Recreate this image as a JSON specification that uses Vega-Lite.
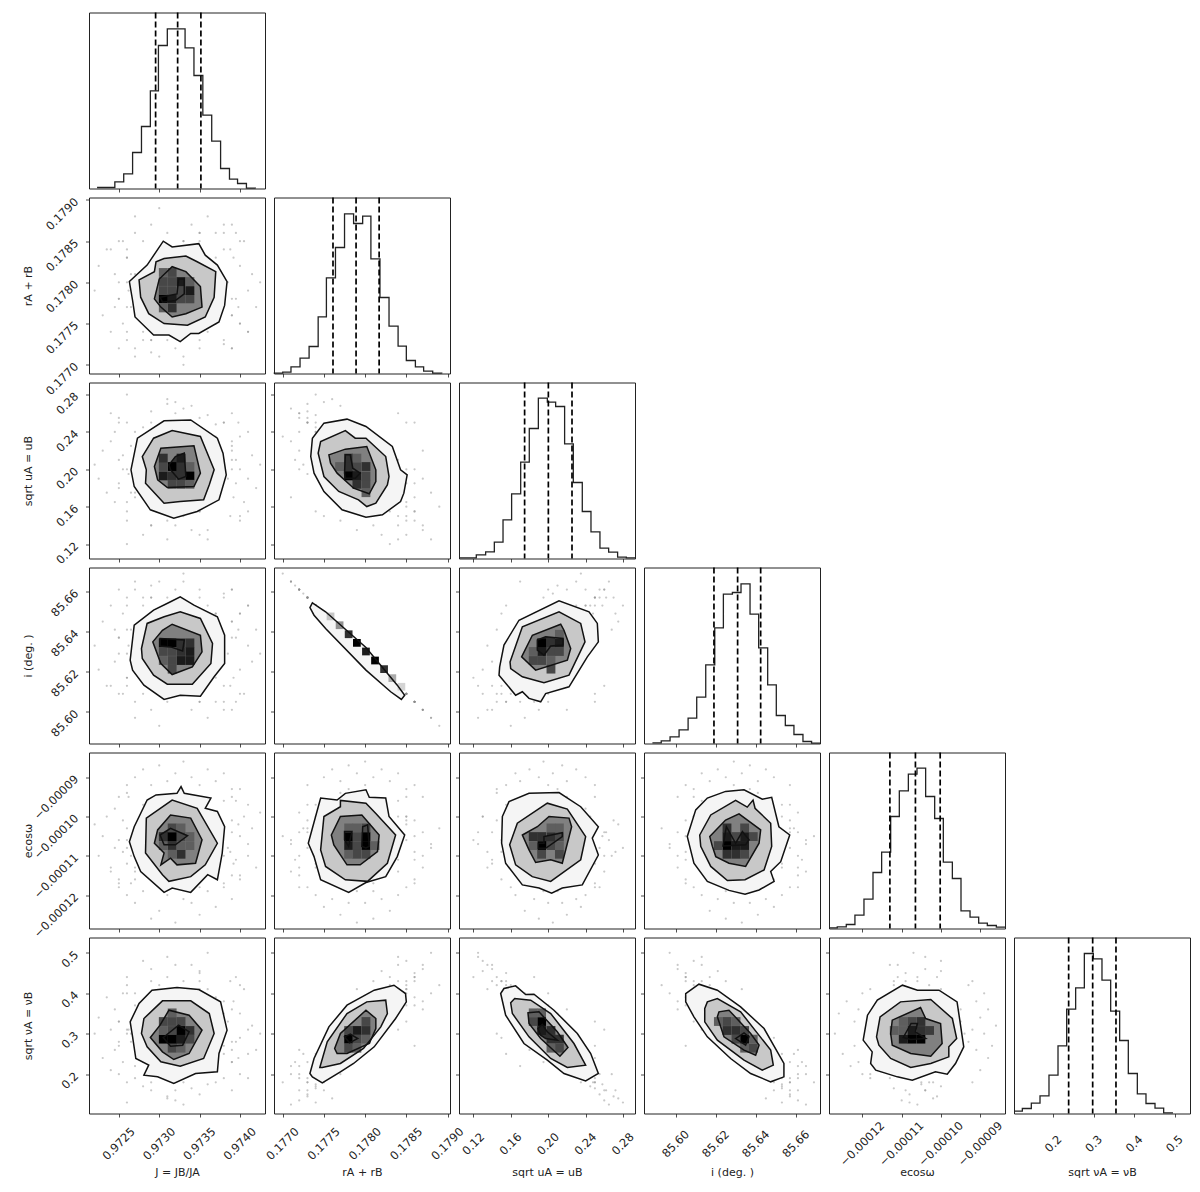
{"$schema":"https://vega.github.io/schema/vega-lite/v6.json","padding":{"left":21,"top":10.5,"right":5,"bottom":5},"background":"white","bounds":"flush","columns":6,"spacing":9,
"config":{"view":{"continuousWidth":176,"continuousHeight":176,"stroke":"#222","strokeWidth":1},"font":"DejaVu Sans","axis":{"domain":false,"grid":false,"tickColor":"#222","tickSize":3.5,"tickWidth":0.8,"labelFont":"DejaVu Sans","labelFontSize":11.5,"labelColor":"#222","labelOverlap":false,"labelBound":false,"labelFlush":false,"labelAngle":-45,"titleFont":"DejaVu Sans","titleFontSize":11,"titleFontWeight":"normal","titleColor":"#222","titleBaseline":"middle"},"axisX":{"labelAlign":"center","labelBaseline":"middle","labelPadding":27,"titleY":59},"axisY":{"labelAlign":"right","labelBaseline":"middle","labelPadding":9,"titleX":-61}},
"datasets":{
"s":[
{"J":0.9722,"r":0.1779,"u":0.205,"i":85.633,"e":-1.02e-4,"v":0.3},{"J":0.97225,"r":0.1782,"u":0.19,"i":85.621,"e":-1.1e-4,"v":0.34},{"J":0.9723,"r":0.1776,"u":0.22,"i":85.645,"e":-1.05e-4,"v":0.24},{"J":0.97235,"r":0.1784,"u":0.175,"i":85.613,"e":-1.0e-4,"v":0.39},{"J":0.9724,"r":0.1774,"u":0.23,"i":85.653,"e":-1.13e-4,"v":0.21},{"J":0.97245,"r":0.1781,"u":0.165,"i":85.625,"e":-1.08e-4,"v":0.36},{"J":0.97245,"r":0.1777,"u":0.24,"i":85.641,"e":-9.8e-5,"v":0.26},{"J":0.9725,"r":0.178,"u":0.21,"i":85.629,"e":-1.16e-4,"v":0.33},{"J":0.9725,"r":0.1778,"u":0.185,"i":85.637,"e":-1.06e-4,"v":0.27},{"J":0.97255,"r":0.1785,"u":0.2,"i":85.609,"e":-1.01e-4,"v":0.4},{"J":0.97255,"r":0.1775,"u":0.215,"i":85.649,"e":-1.09e-4,"v":0.23},{"J":0.9726,"r":0.1783,"u":0.155,"i":85.617,"e":-1.12e-4,"v":0.42},{"J":0.9726,"r":0.1773,"u":0.25,"i":85.657,"e":-1.03e-4,"v":0.18},{"J":0.97262,"r":0.1779,"u":0.195,"i":85.633,"e":-9.5e-5,"v":0.31},{"J":0.97265,"r":0.1781,"u":0.225,"i":85.625,"e":-1.17e-4,"v":0.3},{"J":0.97265,"r":0.1777,"u":0.175,"i":85.641,"e":-1.1e-4,"v":0.28},
{"J":0.97385,"r":0.178,"u":0.19,"i":85.629,"e":-1.08e-4,"v":0.33},{"J":0.9739,"r":0.1776,"u":0.225,"i":85.645,"e":-1.01e-4,"v":0.23},{"J":0.97392,"r":0.1783,"u":0.17,"i":85.617,"e":-1.12e-4,"v":0.38},{"J":0.97395,"r":0.1778,"u":0.21,"i":85.637,"e":-9.6e-5,"v":0.28},{"J":0.974,"r":0.1782,"u":0.2,"i":85.621,"e":-1.15e-4,"v":0.35},{"J":0.974,"r":0.1775,"u":0.235,"i":85.649,"e":-1.05e-4,"v":0.2},{"J":0.97405,"r":0.1785,"u":0.165,"i":85.609,"e":-1.0e-4,"v":0.41},{"J":0.9741,"r":0.1779,"u":0.19,"i":85.633,"e":-1.1e-4,"v":0.31},{"J":0.9741,"r":0.1774,"u":0.24,"i":85.653,"e":-1.07e-4,"v":0.19},{"J":0.97415,"r":0.1781,"u":0.215,"i":85.625,"e":-1.03e-4,"v":0.32},{"J":0.9742,"r":0.1777,"u":0.18,"i":85.641,"e":-1.13e-4,"v":0.26},{"J":0.97425,"r":0.178,"u":0.205,"i":85.629,"e":-9.9e-5,"v":0.3},{"J":0.97388,"r":0.1784,"u":0.15,"i":85.613,"e":-1.09e-4,"v":0.43},{"J":0.9739,"r":0.1772,"u":0.26,"i":85.661,"e":-1.04e-4,"v":0.16},{"J":0.97395,"r":0.1786,"u":0.185,"i":85.605,"e":-1.11e-4,"v":0.44},{"J":0.97398,"r":0.1777,"u":0.25,"i":85.641,"e":-1.02e-4,"v":0.24},
{"J":0.9733,"r":0.1771,"u":0.265,"i":85.665,"e":-1.06e-4,"v":0.125},{"J":0.9732,"r":0.1772,"u":0.26,"i":85.661,"e":-1.1e-4,"v":0.135},{"J":0.9731,"r":0.1773,"u":0.27,"i":85.657,"e":-1.01e-4,"v":0.145},{"J":0.9735,"r":0.1773,"u":0.255,"i":85.657,"e":-1.08e-4,"v":0.15},{"J":0.9729,"r":0.1773,"u":0.262,"i":85.657,"e":-1.04e-4,"v":0.16},{"J":0.9734,"r":0.1774,"u":0.25,"i":85.653,"e":-1.12e-4,"v":0.165},{"J":0.9728,"r":0.1774,"u":0.245,"i":85.653,"e":-1.0e-4,"v":0.17},{"J":0.9736,"r":0.1774,"u":0.258,"i":85.653,"e":-1.05e-4,"v":0.175},{"J":0.9732,"r":0.1775,"u":0.272,"i":85.649,"e":-1.09e-4,"v":0.16},{"J":0.9737,"r":0.1775,"u":0.248,"i":85.649,"e":-1.02e-4,"v":0.18},{"J":0.9727,"r":0.1772,"u":0.24,"i":85.661,"e":-1.13e-4,"v":0.19},{"J":0.973,"r":0.1771,"u":0.23,"i":85.665,"e":-1.07e-4,"v":0.2},{"J":0.9735,"r":0.1772,"u":0.22,"i":85.661,"e":-9.9e-5,"v":0.22},{"J":0.9733,"r":0.177,"u":0.235,"i":85.669,"e":-1.05e-4,"v":0.18},{"J":0.9729,"r":0.17715,"u":0.21,"i":85.663,"e":-1.11e-4,"v":0.23},{"J":0.9738,"r":0.17725,"u":0.205,"i":85.659,"e":-1.03e-4,"v":0.25},{"J":0.9726,"r":0.1774,"u":0.28,"i":85.653,"e":-1.08e-4,"v":0.13},{"J":0.9731,"r":0.1776,"u":0.275,"i":85.645,"e":-1.02e-4,"v":0.14},{"J":0.9734,"r":0.1777,"u":0.268,"i":85.641,"e":-1.1e-4,"v":0.2},
{"J":0.9733,"r":0.1785,"u":0.15,"i":85.609,"e":-1.06e-4,"v":0.43},{"J":0.9731,"r":0.1786,"u":0.145,"i":85.605,"e":-1.01e-4,"v":0.44},{"J":0.9735,"r":0.1786,"u":0.155,"i":85.605,"e":-1.09e-4,"v":0.45},{"J":0.9729,"r":0.1787,"u":0.14,"i":85.601,"e":-1.04e-4,"v":0.46},{"J":0.9734,"r":0.1787,"u":0.135,"i":85.601,"e":-1.13e-4,"v":0.47},{"J":0.9728,"r":0.1785,"u":0.13,"i":85.609,"e":-1.0e-4,"v":0.48},{"J":0.9736,"r":0.1788,"u":0.125,"i":85.597,"e":-1.07e-4,"v":0.5},{"J":0.9732,"r":0.1784,"u":0.14,"i":85.613,"e":-1.11e-4,"v":0.47},{"J":0.973,"r":0.1789,"u":0.16,"i":85.593,"e":-1.03e-4,"v":0.42},{"J":0.9737,"r":0.1786,"u":0.17,"i":85.605,"e":-1.05e-4,"v":0.39},{"J":0.9727,"r":0.1788,"u":0.175,"i":85.597,"e":-1.08e-4,"v":0.4},{"J":0.9733,"r":0.1785,"u":0.185,"i":85.609,"e":-1.02e-4,"v":0.37},{"J":0.9738,"r":0.1787,"u":0.19,"i":85.601,"e":-1.1e-4,"v":0.38},{"J":0.9726,"r":0.1783,"u":0.12,"i":85.617,"e":-1.06e-4,"v":0.44},{"J":0.9735,"r":0.1782,"u":0.13,"i":85.621,"e":-1.0e-4,"v":0.455},{"J":0.9729,"r":0.1781,"u":0.14,"i":85.625,"e":-1.12e-4,"v":0.43},{"J":0.9731,"r":0.1784,"u":0.125,"i":85.613,"e":-1.04e-4,"v":0.49},{"J":0.9736,"r":0.1779,"u":0.135,"i":85.633,"e":-1.09e-4,"v":0.41},
{"J":0.9732,"r":0.1779,"u":0.205,"i":85.633,"e":-1.27e-4,"v":0.3},{"J":0.9729,"r":0.1781,"u":0.19,"i":85.625,"e":-1.26e-4,"v":0.35},{"J":0.9735,"r":0.1777,"u":0.22,"i":85.641,"e":-1.25e-4,"v":0.25},{"J":0.973,"r":0.1783,"u":0.175,"i":85.617,"e":-1.24e-4,"v":0.38},{"J":0.9737,"r":0.1775,"u":0.235,"i":85.649,"e":-1.23e-4,"v":0.22},{"J":0.9734,"r":0.178,"u":0.2,"i":85.629,"e":-1.22e-4,"v":0.33},{"J":0.9727,"r":0.1778,"u":0.215,"i":85.637,"e":-1.22e-4,"v":0.27},{"J":0.9733,"r":0.1782,"u":0.185,"i":85.621,"e":-1.21e-4,"v":0.36},{"J":0.9739,"r":0.1776,"u":0.23,"i":85.645,"e":-1.21e-4,"v":0.23},{"J":0.9726,"r":0.1784,"u":0.165,"i":85.613,"e":-1.2e-4,"v":0.4},{"J":0.9731,"r":0.1774,"u":0.24,"i":85.653,"e":-1.2e-4,"v":0.2},{"J":0.9736,"r":0.1779,"u":0.195,"i":85.633,"e":-1.19e-4,"v":0.31},{"J":0.9728,"r":0.1781,"u":0.21,"i":85.625,"e":-1.19e-4,"v":0.29},{"J":0.9735,"r":0.1785,"u":0.16,"i":85.609,"e":-1.18e-4,"v":0.41},{"J":0.9738,"r":0.1773,"u":0.25,"i":85.657,"e":-1.18e-4,"v":0.19},{"J":0.9725,"r":0.1778,"u":0.18,"i":85.637,"e":-1.17e-4,"v":0.28},
{"J":0.9733,"r":0.178,"u":0.195,"i":85.629,"e":-8.6e-5,"v":0.32},{"J":0.973,"r":0.1778,"u":0.215,"i":85.637,"e":-8.7e-5,"v":0.27},{"J":0.9736,"r":0.1782,"u":0.18,"i":85.621,"e":-8.8e-5,"v":0.36},{"J":0.9728,"r":0.1776,"u":0.23,"i":85.645,"e":-8.8e-5,"v":0.24},{"J":0.9732,"r":0.1784,"u":0.165,"i":85.613,"e":-8.9e-5,"v":0.4},{"J":0.9738,"r":0.1779,"u":0.205,"i":85.633,"e":-8.9e-5,"v":0.3},{"J":0.9727,"r":0.1781,"u":0.19,"i":85.625,"e":-9.0e-5,"v":0.34},{"J":0.9734,"r":0.1775,"u":0.24,"i":85.649,"e":-9.0e-5,"v":0.21},{"J":0.9731,"r":0.1777,"u":0.22,"i":85.641,"e":-9.1e-5,"v":0.26},{"J":0.9737,"r":0.1783,"u":0.17,"i":85.617,"e":-9.1e-5,"v":0.38},{"J":0.9726,"r":0.178,"u":0.2,"i":85.629,"e":-9.2e-5,"v":0.31},{"J":0.9735,"r":0.1786,"u":0.155,"i":85.605,"e":-9.2e-5,"v":0.43},{"J":0.9729,"r":0.1773,"u":0.25,"i":85.657,"e":-9.2e-5,"v":0.18},{"J":0.9739,"r":0.1778,"u":0.21,"i":85.637,"e":-9.3e-5,"v":0.28},
{"J":0.9727,"r":0.1786,"u":0.2,"i":85.605,"e":-1.16e-4,"v":0.37},{"J":0.9738,"r":0.1784,"u":0.21,"i":85.613,"e":-9.6e-5,"v":0.35},{"J":0.9728,"r":0.1773,"u":0.195,"i":85.657,"e":-9.7e-5,"v":0.23},{"J":0.9739,"r":0.1772,"u":0.2,"i":85.661,"e":-1.15e-4,"v":0.26},{"J":0.9725,"r":0.1785,"u":0.25,"i":85.609,"e":-9.5e-5,"v":0.33},{"J":0.974,"r":0.1775,"u":0.15,"i":85.649,"e":-1.16e-4,"v":0.29},{"J":0.9726,"r":0.1777,"u":0.145,"i":85.641,"e":-9.4e-5,"v":0.3},{"J":0.9738,"r":0.1786,"u":0.25,"i":85.605,"e":-1.17e-4,"v":0.27},{"J":0.9727,"r":0.1771,"u":0.17,"i":85.665,"e":-1.14e-4,"v":0.22},{"J":0.9739,"r":0.1787,"u":0.22,"i":85.601,"e":-9.5e-5,"v":0.36},{"J":0.9724,"r":0.1784,"u":0.26,"i":85.613,"e":-1.14e-4,"v":0.31},{"J":0.9741,"r":0.1774,"u":0.155,"i":85.653,"e":-9.7e-5,"v":0.25},{"J":0.9725,"r":0.1772,"u":0.255,"i":85.661,"e":-1.18e-4,"v":0.2},{"J":0.974,"r":0.1785,"u":0.145,"i":85.609,"e":-9.3e-5,"v":0.42}],
"hJ":[{"J":0.97223,"n":3},{"J":0.97245,"n":20},{"J":0.97256,"n":44},{"J":0.97267,"n":108},{"J":0.97278,"n":186},{"J":0.97289,"n":293},{"J":0.97299,"n":429},{"J":0.9731,"n":479},{"J":0.97332,"n":422},{"J":0.97343,"n":339},{"J":0.97354,"n":220},{"J":0.97365,"n":142},{"J":0.97376,"n":60},{"J":0.97387,"n":28},{"J":0.97397,"n":15},{"J":0.97408,"n":1},{"J":0.97419,"n":0}],
"lJ":[{"J":0.972955},{"J":0.973228},{"J":0.973516}],
"hr":[{"r":0.17689,"n":1},{"r":0.177,"n":4},{"r":0.1771,"n":20},{"r":0.17721,"n":46},{"r":0.17732,"n":81},{"r":0.17743,"n":170},{"r":0.17753,"n":287},{"r":0.17764,"n":378},{"r":0.17775,"n":479},{"r":0.17786,"n":450},{"r":0.17797,"n":472},{"r":0.17807,"n":344},{"r":0.17818,"n":228},{"r":0.17829,"n":142},{"r":0.1784,"n":82},{"r":0.1785,"n":39},{"r":0.17861,"n":20},{"r":0.17871,"n":7},{"r":0.17882,"n":1},{"r":0.17893,"n":0}],
"lr":[{"r":0.17761},{"r":0.17789},{"r":0.17817}],
"hu":[{"u":0.1046,"n":2},{"u":0.1231,"n":11},{"u":0.1331,"n":20},{"u":0.1424,"n":49},{"u":0.1517,"n":116},{"u":0.1609,"n":194},{"u":0.1706,"n":289},{"u":0.1798,"n":390},{"u":0.1895,"n":481},{"u":0.1991,"n":469},{"u":0.208,"n":456},{"u":0.2176,"n":344},{"u":0.2269,"n":228},{"u":0.2365,"n":141},{"u":0.2458,"n":80},{"u":0.2554,"n":31},{"u":0.2647,"n":19},{"u":0.2743,"n":4},{"u":0.2836,"n":2},{"u":0.2929,"n":2}],
"lu":[{"u":0.1748},{"u":0.2002},{"u":0.2255}],
"hi":[{"i":85.5884,"n":2},{"i":85.5928,"n":8},{"i":85.5972,"n":20},{"i":85.6017,"n":41},{"i":85.6062,"n":76},{"i":85.6105,"n":139},{"i":85.615,"n":236},{"i":85.6195,"n":347},{"i":85.6238,"n":448},{"i":85.6283,"n":453},{"i":85.6326,"n":479},{"i":85.6371,"n":388},{"i":85.6414,"n":287},{"i":85.6459,"n":176},{"i":85.6502,"n":84},{"i":85.6547,"n":54},{"i":85.659,"n":27},{"i":85.6635,"n":6},{"i":85.6678,"n":1},{"i":85.672,"n":1}],
"li":[{"i":85.6191},{"i":85.6309},{"i":85.6424}],
"he":[{"e":-1.285e-4,"n":2},{"e":-1.264e-4,"n":5},{"e":-1.241e-4,"n":12},{"e":-1.219e-4,"n":40},{"e":-1.196e-4,"n":88},{"e":-1.173e-4,"n":168},{"e":-1.151e-4,"n":229},{"e":-1.128e-4,"n":336},{"e":-1.106e-4,"n":413},{"e":-1.083e-4,"n":463},{"e":-1.061e-4,"n":481},{"e":-1.039e-4,"n":396},{"e":-1.016e-4,"n":330},{"e":-9.94e-5,"n":199},{"e":-9.71e-5,"n":150},{"e":-9.49e-5,"n":53},{"e":-9.26e-5,"n":34},{"e":-9.04e-5,"n":16},{"e":-8.82e-5,"n":9},{"e":-8.59e-5,"n":4},{"e":-8.37e-5,"n":4}],
"le":[{"e":-1.13e-4},{"e":-1.065e-4},{"e":-1.002e-4}],
"hv":[{"v":0.1028,"n":7},{"v":0.1234,"n":15},{"v":0.1456,"n":31},{"v":0.1671,"n":53},{"v":0.1893,"n":115},{"v":0.2116,"n":203},{"v":0.233,"n":313},{"v":0.2552,"n":377},{"v":0.2767,"n":480},{"v":0.2989,"n":464},{"v":0.3203,"n":400},{"v":0.3418,"n":307},{"v":0.364,"n":219},{"v":0.3854,"n":120},{"v":0.4077,"n":59},{"v":0.4291,"n":30},{"v":0.4514,"n":16},{"v":0.4728,"n":2},{"v":0.4942,"n":0}],
"lv":[{"v":0.2379},{"v":0.2973},{"v":0.3549}],
"cJr":[{"J":0.97263,"r":0.17801,"k":1},{"J":0.97285,"r":0.17821,"k":1},{"J":0.97305,"r":0.1785,"k":1},{"J":0.97316,"r":0.17843,"k":1},{"J":0.97349,"r":0.17847,"k":1},{"J":0.97357,"r":0.17833,"k":1},{"J":0.97372,"r":0.17821,"k":1},{"J":0.97384,"r":0.17801,"k":1},{"J":0.97381,"r":0.17772,"k":1},{"J":0.97374,"r":0.17752,"k":1},{"J":0.97349,"r":0.17738,"k":1},{"J":0.97339,"r":0.17738,"k":1},{"J":0.97326,"r":0.17728,"k":1},{"J":0.97312,"r":0.17736,"k":1},{"J":0.97293,"r":0.17736,"k":1},{"J":0.9727,"r":0.17758,"k":1},{"J":0.97267,"r":0.17778,"k":1},
{"J":0.97275,"r":0.17803,"k":2},{"J":0.97294,"r":0.17813,"k":2},{"J":0.97296,"r":0.17825,"k":2},{"J":0.97306,"r":0.17829,"k":2},{"J":0.97333,"r":0.17832,"k":2},{"J":0.97347,"r":0.17825,"k":2},{"J":0.9737,"r":0.17813,"k":2},{"J":0.97368,"r":0.17782,"k":2},{"J":0.97357,"r":0.17758,"k":2},{"J":0.97335,"r":0.17748,"k":2},{"J":0.97306,"r":0.1775,"k":2},{"J":0.97287,"r":0.17762,"k":2},{"J":0.97277,"r":0.17782,"k":2},
{"J":0.97294,"r":0.1778,"k":3},{"J":0.973,"r":0.17804,"k":3},{"J":0.97316,"r":0.17819,"k":3},{"J":0.97333,"r":0.17813,"k":3},{"J":0.97351,"r":0.17795,"k":3},{"J":0.97353,"r":0.1777,"k":3},{"J":0.97333,"r":0.17762,"k":3},{"J":0.97316,"r":0.17758,"k":3},{"J":0.97302,"r":0.1777,"k":3},
{"J":0.97301,"r":0.17782,"k":4},{"J":0.97322,"r":0.17786,"k":4},{"J":0.97324,"r":0.17804,"k":4},{"J":0.97331,"r":0.17804,"k":4},{"J":0.97331,"r":0.17786,"k":4},{"J":0.9732,"r":0.17778,"k":4},{"J":0.97304,"r":0.17776,"k":4}],
"gJr":[{"J":0.97305,"r":0.1778,"g":10},{"J":0.97316,"r":0.1778,"g":9},{"J":0.97327,"r":0.1778,"g":7},{"J":0.97338,"r":0.1778,"g":7},{"J":0.97305,"r":0.1779,"g":7},{"J":0.97316,"r":0.1779,"g":7},{"J":0.97327,"r":0.1779,"g":7},{"J":0.97338,"r":0.1779,"g":9},{"J":0.97305,"r":0.17801,"g":7},{"J":0.97316,"r":0.17801,"g":7},{"J":0.97327,"r":0.17801,"g":9},{"J":0.97338,"r":0.17801,"g":6},{"J":0.97305,"r":0.17812,"g":6},{"J":0.97316,"r":0.17812,"g":7},{"J":0.97316,"r":0.17769,"g":8},{"J":0.97305,"r":0.17769,"g":6}],
"cJu":[{"J":0.97265,"u":0.1995,"k":1},{"J":0.97273,"u":0.2333,"k":1},{"J":0.97306,"u":0.2519,"k":1},{"J":0.97339,"u":0.2529,"k":1},{"J":0.97372,"u":0.2333,"k":1},{"J":0.97379,"u":0.2173,"k":1},{"J":0.97383,"u":0.1941,"k":1},{"J":0.97374,"u":0.1674,"k":1},{"J":0.97347,"u":0.1549,"k":1},{"J":0.97318,"u":0.1477,"k":1},{"J":0.97289,"u":0.1567,"k":1},{"J":0.97269,"u":0.1816,"k":1},
{"J":0.97279,"u":0.2137,"k":2},{"J":0.97293,"u":0.2333,"k":2},{"J":0.97316,"u":0.2415,"k":2},{"J":0.97351,"u":0.2351,"k":2},{"J":0.97368,"u":0.1995,"k":2},{"J":0.97362,"u":0.1834,"k":2},{"J":0.97355,"u":0.1674,"k":2},{"J":0.97326,"u":0.1656,"k":2},{"J":0.97306,"u":0.1638,"k":2},{"J":0.97283,"u":0.1852,"k":2},{"J":0.97284,"u":0.1995,"k":2},
{"J":0.97294,"u":0.203,"k":3},{"J":0.97302,"u":0.2226,"k":3},{"J":0.97343,"u":0.2251,"k":3},{"J":0.97351,"u":0.1959,"k":3},{"J":0.97343,"u":0.1816,"k":3},{"J":0.9731,"u":0.1806,"k":3},{"J":0.97298,"u":0.1888,"k":3},
{"J":0.97312,"u":0.2048,"k":4},{"J":0.9732,"u":0.2137,"k":4},{"J":0.97331,"u":0.2173,"k":4},{"J":0.97333,"u":0.1923,"k":4},{"J":0.97324,"u":0.1895,"k":4},{"J":0.97314,"u":0.1995,"k":4}],
"gJu":[{"J":0.97305,"u":0.193,"g":9},{"J":0.97316,"u":0.193,"g":8},{"J":0.97327,"u":0.193,"g":8},{"J":0.97338,"u":0.193,"g":10},{"J":0.97316,"u":0.203,"g":10},{"J":0.97327,"u":0.203,"g":8},{"J":0.97305,"u":0.203,"g":7},{"J":0.97305,"u":0.212,"g":8},{"J":0.97327,"u":0.212,"g":9},{"J":0.97316,"u":0.184,"g":7},{"J":0.97327,"u":0.184,"g":7},{"J":0.97338,"u":0.203,"g":6},{"J":0.97338,"u":0.184,"g":6}],
"cJi":[{"J":0.97264,"i":85.6258,"k":1},{"J":0.97269,"i":85.6432,"k":1},{"J":0.97293,"i":85.6507,"k":1},{"J":0.97314,"i":85.6549,"k":1},{"J":0.97326,"i":85.6574,"k":1},{"J":0.97343,"i":85.6532,"k":1},{"J":0.97372,"i":85.6474,"k":1},{"J":0.97381,"i":85.6382,"k":1},{"J":0.97381,"i":85.6241,"k":1},{"J":0.97368,"i":85.6175,"k":1},{"J":0.97351,"i":85.6078,"k":1},{"J":0.97326,"i":85.6083,"k":1},{"J":0.97306,"i":85.6062,"k":1},{"J":0.97281,"i":85.6133,"k":1},{"J":0.97267,"i":85.6208,"k":1},
{"J":0.97278,"i":85.6316,"k":2},{"J":0.97285,"i":85.6441,"k":2},{"J":0.97306,"i":85.6474,"k":2},{"J":0.97326,"i":85.6499,"k":2},{"J":0.97351,"i":85.6466,"k":2},{"J":0.97366,"i":85.6341,"k":2},{"J":0.97364,"i":85.6241,"k":2},{"J":0.97341,"i":85.6138,"k":2},{"J":0.9731,"i":85.6138,"k":2},{"J":0.97293,"i":85.6183,"k":2},{"J":0.97279,"i":85.6266,"k":2},
{"J":0.97292,"i":85.6349,"k":3},{"J":0.97304,"i":85.6407,"k":3},{"J":0.97316,"i":85.6437,"k":3},{"J":0.97351,"i":85.6382,"k":3},{"J":0.97353,"i":85.6299,"k":3},{"J":0.97341,"i":85.6224,"k":3},{"J":0.97316,"i":85.6186,"k":3},{"J":0.97302,"i":85.6241,"k":3},
{"J":0.97301,"i":85.6366,"k":4},{"J":0.97331,"i":85.6358,"k":4},{"J":0.97329,"i":85.6304,"k":4},{"J":0.97314,"i":85.6324,"k":4},{"J":0.97301,"i":85.6328,"k":4}],
"gJi":[{"J":0.97305,"i":85.6344,"g":10},{"J":0.97316,"i":85.6344,"g":10},{"J":0.97327,"i":85.6344,"g":8},{"J":0.97338,"i":85.6301,"g":9},{"J":0.97338,"i":85.6344,"g":8},{"J":0.97327,"i":85.6301,"g":8},{"J":0.97316,"i":85.6301,"g":7},{"J":0.97305,"i":85.6301,"g":7},{"J":0.97327,"i":85.6256,"g":9},{"J":0.97338,"i":85.6256,"g":9},{"J":0.97316,"i":85.6256,"g":7},{"J":0.97316,"i":85.6213,"g":7},{"J":0.97305,"i":85.6256,"g":6}],
"cJe":[{"J":0.97263,"e":-1.064e-4,"k":1},{"J":0.97269,"e":-1.026e-4,"k":1},{"J":0.97285,"e":-9.58e-5,"k":1},{"J":0.97296,"e":-9.45e-5,"k":1},{"J":0.97322,"e":-9.41e-5,"k":1},{"J":0.97327,"e":-9.24e-5,"k":1},{"J":0.97331,"e":-9.41e-5,"k":1},{"J":0.97364,"e":-9.53e-5,"k":1},{"J":0.97357,"e":-9.79e-5,"k":1},{"J":0.97372,"e":-9.87e-5,"k":1},{"J":0.97381,"e":-1.026e-4,"k":1},{"J":0.97378,"e":-1.093e-4,"k":1},{"J":0.97372,"e":-1.161e-4,"k":1},{"J":0.9736,"e":-1.148e-4,"k":1},{"J":0.97339,"e":-1.193e-4,"k":1},{"J":0.97316,"e":-1.182e-4,"k":1},{"J":0.97306,"e":-1.193e-4,"k":1},{"J":0.97277,"e":-1.14e-4,"k":1},{"J":0.97269,"e":-1.102e-4,"k":1},
{"J":0.97283,"e":-1.093e-4,"k":2},{"J":0.97284,"e":-1.004e-4,"k":2},{"J":0.97316,"e":-9.58e-5,"k":2},{"J":0.97347,"e":-9.79e-5,"k":2},{"J":0.97372,"e":-1.068e-4,"k":2},{"J":0.97357,"e":-1.123e-4,"k":2},{"J":0.97339,"e":-1.153e-4,"k":2},{"J":0.97312,"e":-1.165e-4,"k":2},{"J":0.97304,"e":-1.148e-4,"k":2},{"J":0.97285,"e":-1.098e-4,"k":2},
{"J":0.97294,"e":-1.068e-4,"k":3},{"J":0.97298,"e":-1.034e-4,"k":3},{"J":0.97314,"e":-9.96e-5,"k":3},{"J":0.97339,"e":-1.004e-4,"k":3},{"J":0.97353,"e":-1.059e-4,"k":3},{"J":0.97345,"e":-1.119e-4,"k":3},{"J":0.97322,"e":-1.123e-4,"k":3},{"J":0.97314,"e":-1.106e-4,"k":3},{"J":0.97302,"e":-1.123e-4,"k":3},{"J":0.97306,"e":-1.093e-4,"k":3},
{"J":0.97301,"e":-1.047e-4,"k":4},{"J":0.97314,"e":-1.03e-4,"k":4},{"J":0.97335,"e":-1.049e-4,"k":4},{"J":0.9732,"e":-1.072e-4,"k":4},{"J":0.97306,"e":-1.072e-4,"k":4}],
"gJe":[{"J":0.97305,"e":-1.051e-4,"g":8},{"J":0.97316,"e":-1.051e-4,"g":10},{"J":0.97327,"e":-1.051e-4,"g":7},{"J":0.97316,"e":-1.074e-4,"g":8},{"J":0.97305,"e":-1.074e-4,"g":6},{"J":0.97327,"e":-1.096e-4,"g":8},{"J":0.97338,"e":-1.051e-4,"g":6},{"J":0.97316,"e":-1.029e-4,"g":7},{"J":0.97327,"e":-1.029e-4,"g":6},{"J":0.97338,"e":-1.074e-4,"g":6},{"J":0.97327,"e":-1.074e-4,"g":6},{"J":0.97316,"e":-1.096e-4,"g":6}],
"cJv":[{"J":0.97264,"v":0.3294,"k":1},{"J":0.97275,"v":0.3747,"k":1},{"J":0.97291,"v":0.4077,"k":1},{"J":0.97322,"v":0.4143,"k":1},{"J":0.97349,"v":0.4093,"k":1},{"J":0.97376,"v":0.3788,"k":1},{"J":0.97384,"v":0.3088,"k":1},{"J":0.97374,"v":0.2511,"k":1},{"J":0.97372,"v":0.2058,"k":1},{"J":0.97345,"v":0.2017,"k":1},{"J":0.97318,"v":0.177,"k":1},{"J":0.97298,"v":0.1934,"k":1},{"J":0.97281,"v":0.1976,"k":1},{"J":0.97287,"v":0.2223,"k":1},{"J":0.97271,"v":0.2388,"k":1},{"J":0.97267,"v":0.2923,"k":1},
{"J":0.97278,"v":0.3006,"k":2},{"J":0.97281,"v":0.3376,"k":2},{"J":0.97304,"v":0.3813,"k":2},{"J":0.97339,"v":0.3813,"k":2},{"J":0.97362,"v":0.35,"k":2},{"J":0.97368,"v":0.3006,"k":2},{"J":0.97355,"v":0.2388,"k":2},{"J":0.97326,"v":0.2198,"k":2},{"J":0.97302,"v":0.2305,"k":2},{"J":0.97285,"v":0.2676,"k":2},
{"J":0.97289,"v":0.2907,"k":3},{"J":0.97301,"v":0.3212,"k":3},{"J":0.97312,"v":0.3582,"k":3},{"J":0.97337,"v":0.3459,"k":3},{"J":0.97353,"v":0.3088,"k":3},{"J":0.97337,"v":0.2511,"k":3},{"J":0.97318,"v":0.2363,"k":3},{"J":0.97304,"v":0.2552,"k":3},
{"J":0.97305,"v":0.2907,"k":4},{"J":0.97324,"v":0.3212,"k":4},{"J":0.97337,"v":0.3047,"k":4},{"J":0.97329,"v":0.2717,"k":4},{"J":0.97314,"v":0.2692,"k":4}],
"gJv":[{"J":0.97305,"v":0.2866,"g":10},{"J":0.97316,"v":0.2866,"g":10},{"J":0.97327,"v":0.2866,"g":9},{"J":0.97327,"v":0.308,"g":10},{"J":0.97338,"v":0.308,"g":8},{"J":0.97316,"v":0.308,"g":7},{"J":0.97305,"v":0.308,"g":6},{"J":0.97316,"v":0.3302,"g":7},{"J":0.97305,"v":0.3302,"g":7},{"J":0.97327,"v":0.3302,"g":7},{"J":0.97338,"v":0.2866,"g":7},{"J":0.97316,"v":0.2643,"g":7},{"J":0.97327,"v":0.2643,"g":6},{"J":0.97316,"v":0.3516,"g":6}],
"cru":[{"r":0.17734,"u":0.2137,"k":1},{"r":0.17736,"u":0.2333,"k":1},{"r":0.1775,"u":0.2494,"k":1},{"r":0.17778,"u":0.2537,"k":1},{"r":0.17801,"u":0.2458,"k":1},{"r":0.17833,"u":0.2244,"k":1},{"r":0.17843,"u":0.1995,"k":1},{"r":0.17851,"u":0.1941,"k":1},{"r":0.17847,"u":0.1745,"k":1},{"r":0.17843,"u":0.1656,"k":1},{"r":0.17821,"u":0.1513,"k":1},{"r":0.17801,"u":0.1488,"k":1},{"r":0.17772,"u":0.1567,"k":1},{"r":0.1775,"u":0.1763,"k":1},{"r":0.17738,"u":0.1959,"k":1},
{"r":0.17743,"u":0.2173,"k":2},{"r":0.17746,"u":0.2298,"k":2},{"r":0.17776,"u":0.2415,"k":2},{"r":0.17788,"u":0.2333,"k":2},{"r":0.17801,"u":0.2333,"k":2},{"r":0.17825,"u":0.2137,"k":2},{"r":0.17829,"u":0.1923,"k":2},{"r":0.17827,"u":0.1834,"k":2},{"r":0.17813,"u":0.1638,"k":2},{"r":0.17802,"u":0.1602,"k":2},{"r":0.17792,"u":0.1674,"k":2},{"r":0.17768,"u":0.1763,"k":2},{"r":0.1775,"u":0.1923,"k":2},
{"r":0.17756,"u":0.2155,"k":3},{"r":0.17776,"u":0.2216,"k":3},{"r":0.17802,"u":0.2244,"k":3},{"r":0.17813,"u":0.1995,"k":3},{"r":0.17813,"u":0.187,"k":3},{"r":0.17805,"u":0.1738,"k":3},{"r":0.17786,"u":0.1798,"k":3},{"r":0.17766,"u":0.1959,"k":3},{"r":0.17758,"u":0.2066,"k":3},
{"r":0.17775,"u":0.1959,"k":4},{"r":0.17776,"u":0.2155,"k":4},{"r":0.17782,"u":0.2155,"k":4},{"r":0.17785,"u":0.2012,"k":4},{"r":0.17794,"u":0.1959,"k":4},{"r":0.17788,"u":0.1905,"k":4},{"r":0.17776,"u":0.1905,"k":4}],
"gru":[{"r":0.1778,"u":0.193,"g":10},{"r":0.1779,"u":0.193,"g":9},{"r":0.1778,"u":0.203,"g":8},{"r":0.1778,"u":0.212,"g":8},{"r":0.17801,"u":0.203,"g":8},{"r":0.1779,"u":0.203,"g":7},{"r":0.1779,"u":0.184,"g":8},{"r":0.17801,"u":0.184,"g":7},{"r":0.17801,"u":0.193,"g":7},{"r":0.1779,"u":0.212,"g":6},{"r":0.17769,"u":0.203,"g":6},{"r":0.17801,"u":0.175,"g":6}],
"cri":[{"r":0.17733,"i":85.652,"k":1},{"r":0.17736,"i":85.6544,"k":1},{"r":0.17752,"i":85.6499,"k":1},{"r":0.17801,"i":85.6321,"k":1},{"r":0.17839,"i":85.6133,"k":1},{"r":0.17848,"i":85.6083,"k":1},{"r":0.17844,"i":85.6062,"k":1},{"r":0.17831,"i":85.61,"k":1},{"r":0.17801,"i":85.6208,"k":1},{"r":0.17752,"i":85.6416,"k":1},{"r":0.17738,"i":85.6482,"k":1}],
"gri":[{"r":0.17758,"i":85.6476,"g":2},{"r":0.17769,"i":85.6432,"g":4},{"r":0.1778,"i":85.6387,"g":8},{"r":0.1779,"i":85.6344,"g":10},{"r":0.17801,"i":85.6301,"g":9},{"r":0.17812,"i":85.6256,"g":10},{"r":0.17823,"i":85.6213,"g":8},{"r":0.17833,"i":85.6168,"g":3},{"r":0.17844,"i":85.6125,"g":1.5}],
"cre":[{"r":0.17731,"e":-1.068e-4,"k":1},{"r":0.17746,"e":-9.53e-5,"k":1},{"r":0.17766,"e":-9.58e-5,"k":1},{"r":0.17776,"e":-9.41e-5,"k":1},{"r":0.17801,"e":-9.32e-5,"k":1},{"r":0.17805,"e":-9.51e-5,"k":1},{"r":0.17825,"e":-9.53e-5,"k":1},{"r":0.17829,"e":-1.0e-4,"k":1},{"r":0.17848,"e":-1.047e-4,"k":1},{"r":0.17839,"e":-1.102e-4,"k":1},{"r":0.17825,"e":-1.153e-4,"k":1},{"r":0.17801,"e":-1.168e-4,"k":1},{"r":0.1778,"e":-1.193e-4,"k":1},{"r":0.17746,"e":-1.161e-4,"k":1},{"r":0.17738,"e":-1.102e-4,"k":1},
{"r":0.17746,"e":-1.085e-4,"k":2},{"r":0.1775,"e":-1.0e-4,"k":2},{"r":0.1777,"e":-9.75e-5,"k":2},{"r":0.1777,"e":-9.59e-5,"k":2},{"r":0.17801,"e":-9.66e-5,"k":2},{"r":0.17813,"e":-9.92e-5,"k":2},{"r":0.17837,"e":-1.047e-4,"k":2},{"r":0.17827,"e":-1.119e-4,"k":2},{"r":0.17803,"e":-1.165e-4,"k":2},{"r":0.17776,"e":-1.161e-4,"k":2},{"r":0.17752,"e":-1.127e-4,"k":2},
{"r":0.17759,"e":-1.047e-4,"k":3},{"r":0.1777,"e":-1.0e-4,"k":3},{"r":0.17796,"e":-9.96e-5,"k":3},{"r":0.17817,"e":-1.047e-4,"k":3},{"r":0.17815,"e":-1.089e-4,"k":3},{"r":0.17794,"e":-1.123e-4,"k":3},{"r":0.17778,"e":-1.123e-4,"k":3},{"r":0.17762,"e":-1.072e-4,"k":3},
{"r":0.17775,"e":-1.038e-4,"k":4},{"r":0.17784,"e":-1.038e-4,"k":4},{"r":0.1778,"e":-1.076e-4,"k":4},{"r":0.17775,"e":-1.059e-4,"k":4},
{"r":0.17796,"e":-1.076e-4,"k":5},{"r":0.17797,"e":-1.026e-4,"k":5},{"r":0.17803,"e":-1.021e-4,"k":5},{"r":0.17805,"e":-1.076e-4,"k":5},{"r":0.17801,"e":-1.08e-4,"k":5}],
"gre":[{"r":0.1778,"e":-1.051e-4,"g":10},{"r":0.1778,"e":-1.074e-4,"g":9},{"r":0.17801,"e":-1.051e-4,"g":10},{"r":0.17801,"e":-1.074e-4,"g":10},{"r":0.1779,"e":-1.051e-4,"g":7},{"r":0.1779,"e":-1.074e-4,"g":7},{"r":0.1778,"e":-1.029e-4,"g":6},{"r":0.17801,"e":-1.029e-4,"g":7},{"r":0.1779,"e":-1.096e-4,"g":7},{"r":0.17801,"e":-1.096e-4,"g":7},{"r":0.17812,"e":-1.074e-4,"g":6},{"r":0.1779,"e":-1.029e-4,"g":6},{"r":0.1778,"e":-1.096e-4,"g":6}],
"crv":[{"r":0.17733,"v":0.2017,"k":1},{"r":0.17738,"v":0.2388,"k":1},{"r":0.17756,"v":0.317,"k":1},{"r":0.17778,"v":0.3706,"k":1},{"r":0.17811,"v":0.4077,"k":1},{"r":0.17835,"v":0.42,"k":1},{"r":0.17849,"v":0.3994,"k":1},{"r":0.1785,"v":0.3788,"k":1},{"r":0.17837,"v":0.3376,"k":1},{"r":0.17811,"v":0.2676,"k":1},{"r":0.17786,"v":0.2264,"k":1},{"r":0.1777,"v":0.2058,"k":1},{"r":0.17748,"v":0.1786,"k":1},{"r":0.17736,"v":0.1934,"k":1},
{"r":0.17745,"v":0.2165,"k":2},{"r":0.17754,"v":0.28,"k":2},{"r":0.17778,"v":0.35,"k":2},{"r":0.17802,"v":0.3788,"k":2},{"r":0.17825,"v":0.383,"k":2},{"r":0.17827,"v":0.35,"k":2},{"r":0.17819,"v":0.317,"k":2},{"r":0.17798,"v":0.2635,"k":2},{"r":0.1777,"v":0.2264,"k":2},{"r":0.17748,"v":0.2165,"k":2},
{"r":0.17763,"v":0.2635,"k":3},{"r":0.1777,"v":0.3006,"k":3},{"r":0.17801,"v":0.3582,"k":3},{"r":0.17813,"v":0.3376,"k":3},{"r":0.17813,"v":0.3129,"k":3},{"r":0.17805,"v":0.2758,"k":3},{"r":0.17778,"v":0.2511,"k":3},{"r":0.17766,"v":0.2511,"k":3},
{"r":0.17775,"v":0.2923,"k":4},{"r":0.17782,"v":0.2989,"k":4},{"r":0.17791,"v":0.2882,"k":4},{"r":0.17781,"v":0.2775,"k":4}],
"grv":[{"r":0.1778,"v":0.2866,"g":10},{"r":0.1779,"v":0.308,"g":9},{"r":0.17801,"v":0.308,"g":8},{"r":0.1779,"v":0.2866,"g":7},{"r":0.17801,"v":0.3302,"g":7},{"r":0.1778,"v":0.308,"g":7},{"r":0.1778,"v":0.2643,"g":7},{"r":0.1779,"v":0.2643,"g":6},{"r":0.17801,"v":0.2866,"g":6}],
"cui":[{"u":0.1481,"i":85.6224,"k":1},{"u":0.1527,"i":85.6333,"k":1},{"u":0.1688,"i":85.6457,"k":1},{"u":0.2116,"i":85.6554,"k":1},{"u":0.2437,"i":85.6499,"k":1},{"u":0.2526,"i":85.6441,"k":1},{"u":0.2537,"i":85.6349,"k":1},{"u":0.2419,"i":85.6274,"k":1},{"u":0.2223,"i":85.6125,"k":1},{"u":0.1973,"i":85.6091,"k":1},{"u":0.192,"i":85.605,"k":1},{"u":0.1795,"i":85.6067,"k":1},{"u":0.1724,"i":85.61,"k":1},{"u":0.1652,"i":85.6083,"k":1},{"u":0.1474,"i":85.6183,"k":1},
{"u":0.1592,"i":85.6249,"k":2},{"u":0.1724,"i":85.6424,"k":2},{"u":0.2116,"i":85.6499,"k":2},{"u":0.2348,"i":85.6441,"k":2},{"u":0.2394,"i":85.6349,"k":2},{"u":0.2223,"i":85.6183,"k":2},{"u":0.1955,"i":85.6145,"k":2},{"u":0.1724,"i":85.6175,"k":2},{"u":0.1599,"i":85.6216,"k":2},
{"u":0.1716,"i":85.6274,"k":3},{"u":0.1831,"i":85.6382,"k":3},{"u":0.2134,"i":85.6437,"k":3},{"u":0.2169,"i":85.6407,"k":3},{"u":0.2241,"i":85.6316,"k":3},{"u":0.2205,"i":85.6258,"k":3},{"u":0.1866,"i":85.6208,"k":3},
{"u":0.1884,"i":85.6358,"k":4},{"u":0.1973,"i":85.6374,"k":4},{"u":0.2159,"i":85.6366,"k":4},{"u":0.2159,"i":85.6333,"k":4},{"u":0.2027,"i":85.6328,"k":4},{"u":0.1955,"i":85.6283,"k":4},{"u":0.1884,"i":85.6308,"k":4}],
"gui":[{"u":0.193,"i":85.6344,"g":10},{"u":0.193,"i":85.6301,"g":9},{"u":0.203,"i":85.6344,"g":8},{"u":0.212,"i":85.6344,"g":9},{"u":0.203,"i":85.6301,"g":7},{"u":0.193,"i":85.6256,"g":7},{"u":0.184,"i":85.6256,"g":7},{"u":0.212,"i":85.6301,"g":7},{"u":0.203,"i":85.6256,"g":6},{"u":0.184,"i":85.6301,"g":6},{"u":0.203,"i":85.6213,"g":7},{"u":0.212,"i":85.6387,"g":6}],
"cue":[{"u":0.151,"e":-1.0e-4,"k":1},{"u":0.1581,"e":-9.62e-5,"k":1},{"u":0.1795,"e":-9.41e-5,"k":1},{"u":0.2116,"e":-9.39e-5,"k":1},{"u":0.2348,"e":-9.75e-5,"k":1},{"u":0.2537,"e":-1.026e-4,"k":1},{"u":0.2472,"e":-1.055e-4,"k":1},{"u":0.2537,"e":-1.098e-4,"k":1},{"u":0.2365,"e":-1.174e-4,"k":1},{"u":0.2151,"e":-1.182e-4,"k":1},{"u":0.2037,"e":-1.195e-4,"k":1},{"u":0.1902,"e":-1.182e-4,"k":1},{"u":0.1724,"e":-1.174e-4,"k":1},{"u":0.1545,"e":-1.119e-4,"k":1},{"u":0.1502,"e":-1.068e-4,"k":1},
{"u":0.1588,"e":-1.072e-4,"k":2},{"u":0.167,"e":-1.017e-4,"k":2},{"u":0.1991,"e":-9.66e-5,"k":2},{"u":0.2205,"e":-9.81e-5,"k":2},{"u":0.2401,"e":-1.051e-4,"k":2},{"u":0.2348,"e":-1.11e-4,"k":2},{"u":0.2027,"e":-1.165e-4,"k":2},{"u":0.183,"e":-1.153e-4,"k":2},{"u":0.1652,"e":-1.123e-4,"k":2},
{"u":0.1724,"e":-1.047e-4,"k":3},{"u":0.1884,"e":-1.026e-4,"k":3},{"u":0.2009,"e":-1.0e-4,"k":3},{"u":0.2223,"e":-1.004e-4,"k":3},{"u":0.2251,"e":-1.026e-4,"k":3},{"u":0.2151,"e":-1.119e-4,"k":3},{"u":0.2027,"e":-1.11e-4,"k":3},{"u":0.1866,"e":-1.117e-4,"k":3},{"u":0.1795,"e":-1.085e-4,"k":3},
{"u":0.1895,"e":-1.068e-4,"k":4},{"u":0.1955,"e":-1.068e-4,"k":4},{"u":0.1955,"e":-1.051e-4,"k":4},{"u":0.2151,"e":-1.041e-4,"k":4},{"u":0.2151,"e":-1.051e-4,"k":4},{"u":0.1973,"e":-1.081e-4,"k":4},{"u":0.1895,"e":-1.081e-4,"k":4}],
"gue":[{"u":0.193,"e":-1.074e-4,"g":10},{"u":0.193,"e":-1.051e-4,"g":8},{"u":0.184,"e":-1.051e-4,"g":8},{"u":0.203,"e":-1.051e-4,"g":8},{"u":0.212,"e":-1.051e-4,"g":7},{"u":0.203,"e":-1.074e-4,"g":7},{"u":0.184,"e":-1.074e-4,"g":6},{"u":0.193,"e":-1.096e-4,"g":7},{"u":0.212,"e":-1.096e-4,"g":7},{"u":0.212,"e":-1.029e-4,"g":6},{"u":0.203,"e":-1.029e-4,"g":6},{"u":0.212,"e":-1.074e-4,"g":6}],
"cuv":[{"u":0.1492,"v":0.3994,"k":1},{"u":0.1527,"v":0.4118,"k":1},{"u":0.1652,"v":0.4184,"k":1},{"u":0.1759,"v":0.397,"k":1},{"u":0.1848,"v":0.3978,"k":1},{"u":0.2062,"v":0.3582,"k":1},{"u":0.2312,"v":0.3006,"k":1},{"u":0.2455,"v":0.2511,"k":1},{"u":0.2537,"v":0.2017,"k":1},{"u":0.2401,"v":0.1835,"k":1},{"u":0.2169,"v":0.2017,"k":1},{"u":0.1991,"v":0.2346,"k":1},{"u":0.1741,"v":0.2758,"k":1},{"u":0.1545,"v":0.3459,"k":1},
{"u":0.1599,"v":0.3764,"k":2},{"u":0.1642,"v":0.3871,"k":2},{"u":0.1813,"v":0.383,"k":2},{"u":0.2027,"v":0.35,"k":2},{"u":0.2276,"v":0.2758,"k":2},{"u":0.2401,"v":0.2223,"k":2},{"u":0.2205,"v":0.2165,"k":2},{"u":0.2027,"v":0.2388,"k":2},{"u":0.1795,"v":0.2923,"k":2},{"u":0.1617,"v":0.35,"k":2},
{"u":0.1784,"v":0.3516,"k":3},{"u":0.1902,"v":0.3541,"k":3},{"u":0.2098,"v":0.3047,"k":3},{"u":0.2212,"v":0.266,"k":3},{"u":0.2126,"v":0.2445,"k":3},{"u":0.192,"v":0.2882,"k":3},{"u":0.1795,"v":0.3253,"k":3},
{"u":0.1891,"v":0.3129,"k":4},{"u":0.1938,"v":0.3228,"k":4},{"u":0.1991,"v":0.3047,"k":4},{"u":0.2098,"v":0.2841,"k":4},{"u":0.1973,"v":0.2882,"k":4},{"u":0.192,"v":0.2964,"k":4}],
"guv":[{"u":0.193,"v":0.3302,"g":10},{"u":0.193,"v":0.308,"g":9},{"u":0.203,"v":0.308,"g":8},{"u":0.203,"v":0.2866,"g":8},{"u":0.212,"v":0.2866,"g":8},{"u":0.212,"v":0.2643,"g":7},{"u":0.184,"v":0.3302,"g":7},{"u":0.184,"v":0.3516,"g":6},{"u":0.193,"v":0.3516,"g":6},{"u":0.203,"v":0.2643,"g":6}],
"cie":[{"i":85.6058,"e":-1.051e-4,"k":1},{"i":85.61,"e":-9.83e-5,"k":1},{"i":85.6158,"e":-9.53e-5,"k":1},{"i":85.6249,"e":-9.36e-5,"k":1},{"i":85.6341,"e":-9.32e-5,"k":1},{"i":85.6432,"e":-9.56e-5,"k":1},{"i":85.6479,"e":-9.51e-5,"k":1},{"i":85.6515,"e":-1.026e-4,"k":1},{"i":85.6569,"e":-1.047e-4,"k":1},{"i":85.6524,"e":-1.115e-4,"k":1},{"i":85.6474,"e":-1.14e-4,"k":1},{"i":85.6491,"e":-1.165e-4,"k":1},{"i":85.6416,"e":-1.187e-4,"k":1},{"i":85.6346,"e":-1.198e-4,"k":1},{"i":85.6266,"e":-1.188e-4,"k":1},{"i":85.6158,"e":-1.165e-4,"k":1},{"i":85.6091,"e":-1.119e-4,"k":1},
{"i":85.612,"e":-1.047e-4,"k":2},{"i":85.6175,"e":-9.96e-5,"k":2},{"i":85.6299,"e":-9.59e-5,"k":2},{"i":85.6357,"e":-9.76e-5,"k":2},{"i":85.6386,"e":-9.58e-5,"k":2},{"i":85.6396,"e":-9.79e-5,"k":2},{"i":85.6474,"e":-1.017e-4,"k":2},{"i":85.6479,"e":-1.076e-4,"k":2},{"i":85.6441,"e":-1.136e-4,"k":2},{"i":85.6346,"e":-1.161e-4,"k":2},{"i":85.6258,"e":-1.163e-4,"k":2},{"i":85.6175,"e":-1.127e-4,"k":2},{"i":85.6125,"e":-1.076e-4,"k":2},
{"i":85.617,"e":-1.051e-4,"k":3},{"i":85.6249,"e":-1.009e-4,"k":3},{"i":85.6316,"e":-9.93e-5,"k":3},{"i":85.6424,"e":-1.034e-4,"k":3},{"i":85.6416,"e":-1.068e-4,"k":3},{"i":85.6349,"e":-1.127e-4,"k":3},{"i":85.6266,"e":-1.119e-4,"k":3},{"i":85.62,"e":-1.102e-4,"k":3},{"i":85.6183,"e":-1.076e-4,"k":3},
{"i":85.6236,"e":-1.075e-4,"k":4},{"i":85.6253,"e":-1.026e-4,"k":4},{"i":85.6299,"e":-1.068e-4,"k":4},{"i":85.6333,"e":-1.038e-4,"k":4},{"i":85.6366,"e":-1.059e-4,"k":4},{"i":85.6349,"e":-1.072e-4,"k":4}],
"gie":[{"i":85.6256,"e":-1.074e-4,"g":10},{"i":85.6256,"e":-1.051e-4,"g":9},{"i":85.6301,"e":-1.074e-4,"g":9},{"i":85.6344,"e":-1.051e-4,"g":9},{"i":85.6344,"e":-1.074e-4,"g":9},{"i":85.6344,"e":-1.029e-4,"g":7},{"i":85.6256,"e":-1.029e-4,"g":8},{"i":85.6256,"e":-1.096e-4,"g":8},{"i":85.6301,"e":-1.096e-4,"g":8},{"i":85.6213,"e":-1.074e-4,"g":7},{"i":85.6301,"e":-1.051e-4,"g":7},{"i":85.6387,"e":-1.051e-4,"g":7},{"i":85.6344,"e":-1.096e-4,"g":7}],
"civ":[{"i":85.605,"v":0.3994,"k":1},{"i":85.6116,"v":0.4225,"k":1},{"i":85.6208,"v":0.4077,"k":1},{"i":85.6324,"v":0.3665,"k":1},{"i":85.6441,"v":0.3129,"k":1},{"i":85.654,"v":0.2264,"k":1},{"i":85.654,"v":0.1934,"k":1},{"i":85.6474,"v":0.1811,"k":1},{"i":85.6374,"v":0.2017,"k":1},{"i":85.6274,"v":0.2388,"k":1},{"i":85.6158,"v":0.2923,"k":1},{"i":85.6091,"v":0.3418,"k":1},{"i":85.605,"v":0.3788,"k":1},
{"i":85.6145,"v":0.3624,"k":2},{"i":85.6158,"v":0.3788,"k":2},{"i":85.6208,"v":0.3871,"k":2},{"i":85.6324,"v":0.3541,"k":2},{"i":85.6474,"v":0.2594,"k":2},{"i":85.6487,"v":0.2223,"k":2},{"i":85.6432,"v":0.2099,"k":2},{"i":85.6341,"v":0.2346,"k":2},{"i":85.6208,"v":0.2841,"k":2},{"i":85.6145,"v":0.3294,"k":2},
{"i":85.6208,"v":0.3418,"k":3},{"i":85.6216,"v":0.3541,"k":3},{"i":85.6266,"v":0.3582,"k":3},{"i":85.6374,"v":0.3006,"k":3},{"i":85.6416,"v":0.2717,"k":3},{"i":85.6399,"v":0.247,"k":3},{"i":85.6341,"v":0.2594,"k":3},{"i":85.6241,"v":0.2923,"k":3},
{"i":85.6299,"v":0.2882,"k":4},{"i":85.6341,"v":0.3022,"k":4},{"i":85.6366,"v":0.2923,"k":4},{"i":85.6349,"v":0.2717,"k":4}],
"giv":[{"i":85.6344,"v":0.2866,"g":10},{"i":85.6301,"v":0.308,"g":8},{"i":85.6256,"v":0.308,"g":8},{"i":85.6344,"v":0.308,"g":7},{"i":85.6301,"v":0.2866,"g":7},{"i":85.6256,"v":0.3302,"g":7},{"i":85.6387,"v":0.2643,"g":7},{"i":85.6387,"v":0.2866,"g":6},{"i":85.6344,"v":0.2643,"g":6},{"i":85.6213,"v":0.3302,"g":6},{"i":85.6301,"v":0.3302,"g":6}],
"cev":[{"e":-1.198e-4,"v":0.2841,"k":1},{"e":-1.187e-4,"v":0.3459,"k":1},{"e":-1.162e-4,"v":0.383,"k":1},{"e":-1.098e-4,"v":0.42,"k":1},{"e":-1.06e-4,"v":0.4077,"k":1},{"e":-1.005e-4,"v":0.4077,"k":1},{"e":-9.59e-5,"v":0.3788,"k":1},{"e":-9.42e-5,"v":0.2676,"k":1},{"e":-9.63e-5,"v":0.2264,"k":1},{"e":-9.84e-5,"v":0.2,"k":1},{"e":-1.014e-4,"v":0.2058,"k":1},{"e":-1.073e-4,"v":0.1852,"k":1},{"e":-1.111e-4,"v":0.1934,"k":1},{"e":-1.166e-4,"v":0.2099,"k":1},{"e":-1.179e-4,"v":0.2264,"k":1},{"e":-1.175e-4,"v":0.2552,"k":1},
{"e":-1.164e-4,"v":0.2923,"k":2},{"e":-1.155e-4,"v":0.3418,"k":2},{"e":-1.103e-4,"v":0.3788,"k":2},{"e":-1.026e-4,"v":0.3846,"k":2},{"e":-9.71e-5,"v":0.3376,"k":2},{"e":-9.6e-5,"v":0.2882,"k":2},{"e":-9.8e-5,"v":0.2676,"k":2},{"e":-9.8e-5,"v":0.2429,"k":2},{"e":-1.026e-4,"v":0.2264,"k":2},{"e":-1.077e-4,"v":0.2165,"k":2},{"e":-1.128e-4,"v":0.2388,"k":2},{"e":-1.158e-4,"v":0.2717,"k":2},
{"e":-1.128e-4,"v":0.3006,"k":3},{"e":-1.124e-4,"v":0.3335,"k":3},{"e":-1.052e-4,"v":0.3648,"k":3},{"e":-1.039e-4,"v":0.3376,"k":3},{"e":-1.001e-4,"v":0.3253,"k":3},{"e":-9.97e-5,"v":0.2758,"k":3},{"e":-1.026e-4,"v":0.2445,"k":3},{"e":-1.077e-4,"v":0.2511,"k":3},{"e":-1.124e-4,"v":0.2717,"k":3},
{"e":-1.096e-4,"v":0.2907,"k":4},{"e":-1.076e-4,"v":0.3253,"k":4},{"e":-1.06e-4,"v":0.3253,"k":4},{"e":-1.065e-4,"v":0.3047,"k":4},{"e":-1.039e-4,"v":0.2882,"k":4},{"e":-1.077e-4,"v":0.2857,"k":4}],
"gev":[{"e":-1.074e-4,"v":0.2866,"g":10},{"e":-1.051e-4,"v":0.2866,"g":10},{"e":-1.096e-4,"v":0.2866,"g":9},{"e":-1.074e-4,"v":0.308,"g":9},{"e":-1.051e-4,"v":0.3302,"g":8},{"e":-1.074e-4,"v":0.3302,"g":7},{"e":-1.029e-4,"v":0.308,"g":7.5},{"e":-1.051e-4,"v":0.308,"g":8},{"e":-1.119e-4,"v":0.308,"g":6},{"e":-1.096e-4,"v":0.308,"g":6},{"e":-1.096e-4,"v":0.3302,"g":6}]
},
"concat":[
{"encoding":{"x":{"field":"J","type":"quantitative","scale":{"domain":[0.97213,0.97431]},"axis":{"values":[0.9725,0.973,0.9735,0.974],"labels":false,"title":null}}},"layer":[{"data":{"name":"hJ"},"mark":{"type":"line","interpolate":"step-after","color":"#222","strokeWidth":1.3},"encoding":{"y":{"field":"n","type":"quantitative","scale":{"domain":[0,528]},"axis":null}}},{"data":{"name":"lJ"},"mark":{"type":"rule","color":"#000","strokeWidth":1.7,"strokeDash":[6,3]}}]},
{"data":{"values":[]},"mark":"point","view":{"stroke":null}},{"data":{"values":[]},"mark":"point","view":{"stroke":null}},{"data":{"values":[]},"mark":"point","view":{"stroke":null}},{"data":{"values":[]},"mark":"point","view":{"stroke":null}},{"data":{"values":[]},"mark":"point","view":{"stroke":null}},
{"encoding":{"x":{"field":"J","type":"quantitative","scale":{"domain":[0.97213,0.97431]},"axis":{"values":[0.9725,0.973,0.9735,0.974],"labels":false,"title":null}},"y":{"field":"r","type":"quantitative","scale":{"domain":[0.176894,0.17903]},"axis":{"values":[0.177,0.1775,0.178,0.1785,0.179],"format":".4f","title":"rA + rB"}}},"layer":[{"data":{"name":"s"},"mark":{"type":"point","filled":true,"size":5,"color":"#888","opacity":0.45,"clip":true}},{"data":{"name":"cJr"},"mark":{"type":"line","interpolate":"linear-closed","strokeWidth":0},"encoding":{"order":{"value":null},"fill":{"field":"k","type":"nominal","legend":null,"scale":{"domain":[1,2,3,4,5],"range":["#f5f5f5","#c8c8c8","#808080","#303030","#303030"]}}}},{"data":{"name":"gJr"},"mark":{"type":"square","size":78,"opacity":1},"encoding":{"color":{"field":"g","type":"quantitative","legend":null,"scale":{"domain":[0,10],"range":["#fff","#000"]}}}},{"data":{"name":"cJr"},"mark":{"type":"line","interpolate":"linear-closed","color":"#111","strokeWidth":1.5},"encoding":{"order":{"value":null},"detail":{"field":"k"}}}]},
{"encoding":{"x":{"field":"r","type":"quantitative","scale":{"domain":[0.176894,0.17903]},"axis":{"values":[0.177,0.1775,0.178,0.1785,0.179],"labels":false,"title":null}}},"layer":[{"data":{"name":"hr"},"mark":{"type":"line","interpolate":"step-after","color":"#222","strokeWidth":1.3},"encoding":{"y":{"field":"n","type":"quantitative","scale":{"domain":[0,528]},"axis":null}}},{"data":{"name":"lr"},"mark":{"type":"rule","color":"#000","strokeWidth":1.7,"strokeDash":[6,3]}}]},
{"data":{"values":[]},"mark":"point","view":{"stroke":null}},{"data":{"values":[]},"mark":"point","view":{"stroke":null}},{"data":{"values":[]},"mark":"point","view":{"stroke":null}},{"data":{"values":[]},"mark":"point","view":{"stroke":null}},
{"encoding":{"x":{"field":"J","type":"quantitative","scale":{"domain":[0.97213,0.97431]},"axis":{"values":[0.9725,0.973,0.9735,0.974],"labels":false,"title":null}},"y":{"field":"u","type":"quantitative","scale":{"domain":[0.1046,0.2929]},"axis":{"values":[0.12,0.16,0.2,0.24,0.28],"format":".2f","title":"sqrt uA = uB"}}},"layer":[{"data":{"name":"s"},"mark":{"type":"point","filled":true,"size":5,"color":"#888","opacity":0.45,"clip":true}},{"data":{"name":"cJu"},"mark":{"type":"line","interpolate":"linear-closed","strokeWidth":0},"encoding":{"order":{"value":null},"fill":{"field":"k","type":"nominal","legend":null,"scale":{"domain":[1,2,3,4,5],"range":["#f5f5f5","#c8c8c8","#808080","#303030","#303030"]}}}},{"data":{"name":"gJu"},"mark":{"type":"square","size":78,"opacity":1},"encoding":{"color":{"field":"g","type":"quantitative","legend":null,"scale":{"domain":[0,10],"range":["#fff","#000"]}}}},{"data":{"name":"cJu"},"mark":{"type":"line","interpolate":"linear-closed","color":"#111","strokeWidth":1.5},"encoding":{"order":{"value":null},"detail":{"field":"k"}}}]},
{"encoding":{"x":{"field":"r","type":"quantitative","scale":{"domain":[0.176894,0.17903]},"axis":{"values":[0.177,0.1775,0.178,0.1785,0.179],"labels":false,"title":null}},"y":{"field":"u","type":"quantitative","scale":{"domain":[0.1046,0.2929]},"axis":{"values":[0.12,0.16,0.2,0.24,0.28],"labels":false,"title":null}}},"layer":[{"data":{"name":"s"},"mark":{"type":"point","filled":true,"size":5,"color":"#888","opacity":0.45,"clip":true}},{"data":{"name":"cru"},"mark":{"type":"line","interpolate":"linear-closed","strokeWidth":0},"encoding":{"order":{"value":null},"fill":{"field":"k","type":"nominal","legend":null,"scale":{"domain":[1,2,3,4,5],"range":["#f5f5f5","#c8c8c8","#808080","#303030","#303030"]}}}},{"data":{"name":"gru"},"mark":{"type":"square","size":78,"opacity":1},"encoding":{"color":{"field":"g","type":"quantitative","legend":null,"scale":{"domain":[0,10],"range":["#fff","#000"]}}}},{"data":{"name":"cru"},"mark":{"type":"line","interpolate":"linear-closed","color":"#111","strokeWidth":1.5},"encoding":{"order":{"value":null},"detail":{"field":"k"}}}]},
{"encoding":{"x":{"field":"u","type":"quantitative","scale":{"domain":[0.1046,0.2929]},"axis":{"values":[0.12,0.16,0.2,0.24,0.28],"labels":false,"title":null}}},"layer":[{"data":{"name":"hu"},"mark":{"type":"line","interpolate":"step-after","color":"#222","strokeWidth":1.3},"encoding":{"y":{"field":"n","type":"quantitative","scale":{"domain":[0,528]},"axis":null}}},{"data":{"name":"lu"},"mark":{"type":"rule","color":"#000","strokeWidth":1.7,"strokeDash":[6,3]}}]},
{"data":{"values":[]},"mark":"point","view":{"stroke":null}},{"data":{"values":[]},"mark":"point","view":{"stroke":null}},{"data":{"values":[]},"mark":"point","view":{"stroke":null}},
{"encoding":{"x":{"field":"J","type":"quantitative","scale":{"domain":[0.97213,0.97431]},"axis":{"values":[0.9725,0.973,0.9735,0.974],"labels":false,"title":null}},"y":{"field":"i","type":"quantitative","scale":{"domain":[85.5842,85.672]},"axis":{"values":[85.6,85.62,85.64,85.66],"format":".2f","title":"i   (deg. )"}}},"layer":[{"data":{"name":"s"},"mark":{"type":"point","filled":true,"size":5,"color":"#888","opacity":0.45,"clip":true}},{"data":{"name":"cJi"},"mark":{"type":"line","interpolate":"linear-closed","strokeWidth":0},"encoding":{"order":{"value":null},"fill":{"field":"k","type":"nominal","legend":null,"scale":{"domain":[1,2,3,4,5],"range":["#f5f5f5","#c8c8c8","#808080","#303030","#303030"]}}}},{"data":{"name":"gJi"},"mark":{"type":"square","size":78,"opacity":1},"encoding":{"color":{"field":"g","type":"quantitative","legend":null,"scale":{"domain":[0,10],"range":["#fff","#000"]}}}},{"data":{"name":"cJi"},"mark":{"type":"line","interpolate":"linear-closed","color":"#111","strokeWidth":1.5},"encoding":{"order":{"value":null},"detail":{"field":"k"}}}]},
{"encoding":{"x":{"field":"r","type":"quantitative","scale":{"domain":[0.176894,0.17903]},"axis":{"values":[0.177,0.1775,0.178,0.1785,0.179],"labels":false,"title":null}},"y":{"field":"i","type":"quantitative","scale":{"domain":[85.5842,85.672]},"axis":{"values":[85.6,85.62,85.64,85.66],"labels":false,"title":null}}},"layer":[{"data":{"name":"s"},"mark":{"type":"point","filled":true,"size":5,"color":"#888","opacity":0.45,"clip":true}},{"data":{"name":"cri"},"mark":{"type":"line","interpolate":"linear-closed","strokeWidth":0},"encoding":{"order":{"value":null},"fill":{"field":"k","type":"nominal","legend":null,"scale":{"domain":[1,2,3,4,5],"range":["#ffffff","#c8c8c8","#808080","#303030","#303030"]}}}},{"data":{"name":"gri"},"mark":{"type":"square","size":60,"opacity":1},"encoding":{"color":{"field":"g","type":"quantitative","legend":null,"scale":{"domain":[0,10],"range":["#fff","#000"]}}}},{"data":{"name":"cri"},"mark":{"type":"line","interpolate":"linear-closed","color":"#111","strokeWidth":1.5},"encoding":{"order":{"value":null},"detail":{"field":"k"}}}]},
{"encoding":{"x":{"field":"u","type":"quantitative","scale":{"domain":[0.1046,0.2929]},"axis":{"values":[0.12,0.16,0.2,0.24,0.28],"labels":false,"title":null}},"y":{"field":"i","type":"quantitative","scale":{"domain":[85.5842,85.672]},"axis":{"values":[85.6,85.62,85.64,85.66],"labels":false,"title":null}}},"layer":[{"data":{"name":"s"},"mark":{"type":"point","filled":true,"size":5,"color":"#888","opacity":0.45,"clip":true}},{"data":{"name":"cui"},"mark":{"type":"line","interpolate":"linear-closed","strokeWidth":0},"encoding":{"order":{"value":null},"fill":{"field":"k","type":"nominal","legend":null,"scale":{"domain":[1,2,3,4,5],"range":["#f5f5f5","#c8c8c8","#808080","#303030","#303030"]}}}},{"data":{"name":"gui"},"mark":{"type":"square","size":78,"opacity":1},"encoding":{"color":{"field":"g","type":"quantitative","legend":null,"scale":{"domain":[0,10],"range":["#fff","#000"]}}}},{"data":{"name":"cui"},"mark":{"type":"line","interpolate":"linear-closed","color":"#111","strokeWidth":1.5},"encoding":{"order":{"value":null},"detail":{"field":"k"}}}]},
{"encoding":{"x":{"field":"i","type":"quantitative","scale":{"domain":[85.5842,85.672]},"axis":{"values":[85.6,85.62,85.64,85.66],"labels":false,"title":null}}},"layer":[{"data":{"name":"hi"},"mark":{"type":"line","interpolate":"step-after","color":"#222","strokeWidth":1.3},"encoding":{"y":{"field":"n","type":"quantitative","scale":{"domain":[0,528]},"axis":null}}},{"data":{"name":"li"},"mark":{"type":"rule","color":"#000","strokeWidth":1.7,"strokeDash":[6,3]}}]},
{"data":{"values":[]},"mark":"point","view":{"stroke":null}},{"data":{"values":[]},"mark":"point","view":{"stroke":null}},
{"encoding":{"x":{"field":"J","type":"quantitative","scale":{"domain":[0.97213,0.97431]},"axis":{"values":[0.9725,0.973,0.9735,0.974],"labels":false,"title":null}},"y":{"field":"e","type":"quantitative","scale":{"domain":[-0.0001285,-0.0000837]},"axis":{"values":[-0.00012,-0.00011,-0.0001,-0.00009],"format":".5f","title":"ecosω"}}},"layer":[{"data":{"name":"s"},"mark":{"type":"point","filled":true,"size":5,"color":"#888","opacity":0.45,"clip":true}},{"data":{"name":"cJe"},"mark":{"type":"line","interpolate":"linear-closed","strokeWidth":0},"encoding":{"order":{"value":null},"fill":{"field":"k","type":"nominal","legend":null,"scale":{"domain":[1,2,3,4,5],"range":["#f5f5f5","#c8c8c8","#808080","#303030","#303030"]}}}},{"data":{"name":"gJe"},"mark":{"type":"square","size":78,"opacity":1},"encoding":{"color":{"field":"g","type":"quantitative","legend":null,"scale":{"domain":[0,10],"range":["#fff","#000"]}}}},{"data":{"name":"cJe"},"mark":{"type":"line","interpolate":"linear-closed","color":"#111","strokeWidth":1.5},"encoding":{"order":{"value":null},"detail":{"field":"k"}}}]},
{"encoding":{"x":{"field":"r","type":"quantitative","scale":{"domain":[0.176894,0.17903]},"axis":{"values":[0.177,0.1775,0.178,0.1785,0.179],"labels":false,"title":null}},"y":{"field":"e","type":"quantitative","scale":{"domain":[-0.0001285,-0.0000837]},"axis":{"values":[-0.00012,-0.00011,-0.0001,-0.00009],"labels":false,"title":null}}},"layer":[{"data":{"name":"s"},"mark":{"type":"point","filled":true,"size":5,"color":"#888","opacity":0.45,"clip":true}},{"data":{"name":"cre"},"mark":{"type":"line","interpolate":"linear-closed","strokeWidth":0},"encoding":{"order":{"value":null},"fill":{"field":"k","type":"nominal","legend":null,"scale":{"domain":[1,2,3,4,5],"range":["#f5f5f5","#c8c8c8","#808080","#303030","#303030"]}}}},{"data":{"name":"gre"},"mark":{"type":"square","size":78,"opacity":1},"encoding":{"color":{"field":"g","type":"quantitative","legend":null,"scale":{"domain":[0,10],"range":["#fff","#000"]}}}},{"data":{"name":"cre"},"mark":{"type":"line","interpolate":"linear-closed","color":"#111","strokeWidth":1.5},"encoding":{"order":{"value":null},"detail":{"field":"k"}}}]},
{"encoding":{"x":{"field":"u","type":"quantitative","scale":{"domain":[0.1046,0.2929]},"axis":{"values":[0.12,0.16,0.2,0.24,0.28],"labels":false,"title":null}},"y":{"field":"e","type":"quantitative","scale":{"domain":[-0.0001285,-0.0000837]},"axis":{"values":[-0.00012,-0.00011,-0.0001,-0.00009],"labels":false,"title":null}}},"layer":[{"data":{"name":"s"},"mark":{"type":"point","filled":true,"size":5,"color":"#888","opacity":0.45,"clip":true}},{"data":{"name":"cue"},"mark":{"type":"line","interpolate":"linear-closed","strokeWidth":0},"encoding":{"order":{"value":null},"fill":{"field":"k","type":"nominal","legend":null,"scale":{"domain":[1,2,3,4,5],"range":["#f5f5f5","#c8c8c8","#808080","#303030","#303030"]}}}},{"data":{"name":"gue"},"mark":{"type":"square","size":78,"opacity":1},"encoding":{"color":{"field":"g","type":"quantitative","legend":null,"scale":{"domain":[0,10],"range":["#fff","#000"]}}}},{"data":{"name":"cue"},"mark":{"type":"line","interpolate":"linear-closed","color":"#111","strokeWidth":1.5},"encoding":{"order":{"value":null},"detail":{"field":"k"}}}]},
{"encoding":{"x":{"field":"i","type":"quantitative","scale":{"domain":[85.5842,85.672]},"axis":{"values":[85.6,85.62,85.64,85.66],"labels":false,"title":null}},"y":{"field":"e","type":"quantitative","scale":{"domain":[-0.0001285,-0.0000837]},"axis":{"values":[-0.00012,-0.00011,-0.0001,-0.00009],"labels":false,"title":null}}},"layer":[{"data":{"name":"s"},"mark":{"type":"point","filled":true,"size":5,"color":"#888","opacity":0.45,"clip":true}},{"data":{"name":"cie"},"mark":{"type":"line","interpolate":"linear-closed","strokeWidth":0},"encoding":{"order":{"value":null},"fill":{"field":"k","type":"nominal","legend":null,"scale":{"domain":[1,2,3,4,5],"range":["#f5f5f5","#c8c8c8","#808080","#303030","#303030"]}}}},{"data":{"name":"gie"},"mark":{"type":"square","size":78,"opacity":1},"encoding":{"color":{"field":"g","type":"quantitative","legend":null,"scale":{"domain":[0,10],"range":["#fff","#000"]}}}},{"data":{"name":"cie"},"mark":{"type":"line","interpolate":"linear-closed","color":"#111","strokeWidth":1.5},"encoding":{"order":{"value":null},"detail":{"field":"k"}}}]},
{"encoding":{"x":{"field":"e","type":"quantitative","scale":{"domain":[-0.0001285,-0.0000837]},"axis":{"values":[-0.00012,-0.00011,-0.0001,-0.00009],"labels":false,"title":null}}},"layer":[{"data":{"name":"he"},"mark":{"type":"line","interpolate":"step-after","color":"#222","strokeWidth":1.3},"encoding":{"y":{"field":"n","type":"quantitative","scale":{"domain":[0,528]},"axis":null}}},{"data":{"name":"le"},"mark":{"type":"rule","color":"#000","strokeWidth":1.7,"strokeDash":[6,3]}}]},
{"data":{"values":[]},"mark":"point","view":{"stroke":null}},
{"encoding":{"x":{"field":"J","type":"quantitative","scale":{"domain":[0.97213,0.97431]},"axis":{"values":[0.9725,0.973,0.9735,0.974],"format":".4f","title":"J = JB/JA"}},"y":{"field":"v","type":"quantitative","scale":{"domain":[0.1028,0.5379]},"axis":{"values":[0.2,0.3,0.4,0.5],"format":".1f","title":"sqrt νA = νB"}}},"layer":[{"data":{"name":"s"},"mark":{"type":"point","filled":true,"size":5,"color":"#888","opacity":0.45,"clip":true}},{"data":{"name":"cJv"},"mark":{"type":"line","interpolate":"linear-closed","strokeWidth":0},"encoding":{"order":{"value":null},"fill":{"field":"k","type":"nominal","legend":null,"scale":{"domain":[1,2,3,4,5],"range":["#f5f5f5","#c8c8c8","#808080","#303030","#303030"]}}}},{"data":{"name":"gJv"},"mark":{"type":"square","size":78,"opacity":1},"encoding":{"color":{"field":"g","type":"quantitative","legend":null,"scale":{"domain":[0,10],"range":["#fff","#000"]}}}},{"data":{"name":"cJv"},"mark":{"type":"line","interpolate":"linear-closed","color":"#111","strokeWidth":1.5},"encoding":{"order":{"value":null},"detail":{"field":"k"}}}]},
{"encoding":{"x":{"field":"r","type":"quantitative","scale":{"domain":[0.176894,0.17903]},"axis":{"values":[0.177,0.1775,0.178,0.1785,0.179],"format":".4f","title":"rA + rB"}},"y":{"field":"v","type":"quantitative","scale":{"domain":[0.1028,0.5379]},"axis":{"values":[0.2,0.3,0.4,0.5],"labels":false,"title":null}}},"layer":[{"data":{"name":"s"},"mark":{"type":"point","filled":true,"size":5,"color":"#888","opacity":0.45,"clip":true}},{"data":{"name":"crv"},"mark":{"type":"line","interpolate":"linear-closed","strokeWidth":0},"encoding":{"order":{"value":null},"fill":{"field":"k","type":"nominal","legend":null,"scale":{"domain":[1,2,3,4,5],"range":["#f5f5f5","#c8c8c8","#808080","#303030","#303030"]}}}},{"data":{"name":"grv"},"mark":{"type":"square","size":78,"opacity":1},"encoding":{"color":{"field":"g","type":"quantitative","legend":null,"scale":{"domain":[0,10],"range":["#fff","#000"]}}}},{"data":{"name":"crv"},"mark":{"type":"line","interpolate":"linear-closed","color":"#111","strokeWidth":1.5},"encoding":{"order":{"value":null},"detail":{"field":"k"}}}]},
{"encoding":{"x":{"field":"u","type":"quantitative","scale":{"domain":[0.1046,0.2929]},"axis":{"values":[0.12,0.16,0.2,0.24,0.28],"format":".2f","title":"sqrt uA = uB"}},"y":{"field":"v","type":"quantitative","scale":{"domain":[0.1028,0.5379]},"axis":{"values":[0.2,0.3,0.4,0.5],"labels":false,"title":null}}},"layer":[{"data":{"name":"s"},"mark":{"type":"point","filled":true,"size":5,"color":"#888","opacity":0.45,"clip":true}},{"data":{"name":"cuv"},"mark":{"type":"line","interpolate":"linear-closed","strokeWidth":0},"encoding":{"order":{"value":null},"fill":{"field":"k","type":"nominal","legend":null,"scale":{"domain":[1,2,3,4,5],"range":["#f5f5f5","#c8c8c8","#808080","#303030","#303030"]}}}},{"data":{"name":"guv"},"mark":{"type":"square","size":78,"opacity":1},"encoding":{"color":{"field":"g","type":"quantitative","legend":null,"scale":{"domain":[0,10],"range":["#fff","#000"]}}}},{"data":{"name":"cuv"},"mark":{"type":"line","interpolate":"linear-closed","color":"#111","strokeWidth":1.5},"encoding":{"order":{"value":null},"detail":{"field":"k"}}}]},
{"encoding":{"x":{"field":"i","type":"quantitative","scale":{"domain":[85.5842,85.672]},"axis":{"values":[85.6,85.62,85.64,85.66],"format":".2f","title":"i   (deg. )"}},"y":{"field":"v","type":"quantitative","scale":{"domain":[0.1028,0.5379]},"axis":{"values":[0.2,0.3,0.4,0.5],"labels":false,"title":null}}},"layer":[{"data":{"name":"s"},"mark":{"type":"point","filled":true,"size":5,"color":"#888","opacity":0.45,"clip":true}},{"data":{"name":"civ"},"mark":{"type":"line","interpolate":"linear-closed","strokeWidth":0},"encoding":{"order":{"value":null},"fill":{"field":"k","type":"nominal","legend":null,"scale":{"domain":[1,2,3,4,5],"range":["#f5f5f5","#c8c8c8","#808080","#303030","#303030"]}}}},{"data":{"name":"giv"},"mark":{"type":"square","size":78,"opacity":1},"encoding":{"color":{"field":"g","type":"quantitative","legend":null,"scale":{"domain":[0,10],"range":["#fff","#000"]}}}},{"data":{"name":"civ"},"mark":{"type":"line","interpolate":"linear-closed","color":"#111","strokeWidth":1.5},"encoding":{"order":{"value":null},"detail":{"field":"k"}}}]},
{"encoding":{"x":{"field":"e","type":"quantitative","scale":{"domain":[-0.0001285,-0.0000837]},"axis":{"values":[-0.00012,-0.00011,-0.0001,-0.00009],"format":".5f","title":"ecosω"}},"y":{"field":"v","type":"quantitative","scale":{"domain":[0.1028,0.5379]},"axis":{"values":[0.2,0.3,0.4,0.5],"labels":false,"title":null}}},"layer":[{"data":{"name":"s"},"mark":{"type":"point","filled":true,"size":5,"color":"#888","opacity":0.45,"clip":true}},{"data":{"name":"cev"},"mark":{"type":"line","interpolate":"linear-closed","strokeWidth":0},"encoding":{"order":{"value":null},"fill":{"field":"k","type":"nominal","legend":null,"scale":{"domain":[1,2,3,4,5],"range":["#f5f5f5","#c8c8c8","#808080","#303030","#303030"]}}}},{"data":{"name":"gev"},"mark":{"type":"square","size":78,"opacity":1},"encoding":{"color":{"field":"g","type":"quantitative","legend":null,"scale":{"domain":[0,10],"range":["#fff","#000"]}}}},{"data":{"name":"cev"},"mark":{"type":"line","interpolate":"linear-closed","color":"#111","strokeWidth":1.5},"encoding":{"order":{"value":null},"detail":{"field":"k"}}}]},
{"encoding":{"x":{"field":"v","type":"quantitative","scale":{"domain":[0.1028,0.5379]},"axis":{"values":[0.2,0.3,0.4,0.5],"format":".1f","title":"sqrt νA = νB"}}},"layer":[{"data":{"name":"hv"},"mark":{"type":"line","interpolate":"step-after","color":"#222","strokeWidth":1.3},"encoding":{"y":{"field":"n","type":"quantitative","scale":{"domain":[0,528]},"axis":null}}},{"data":{"name":"lv"},"mark":{"type":"rule","color":"#000","strokeWidth":1.7,"strokeDash":[6,3]}}]}
]}
